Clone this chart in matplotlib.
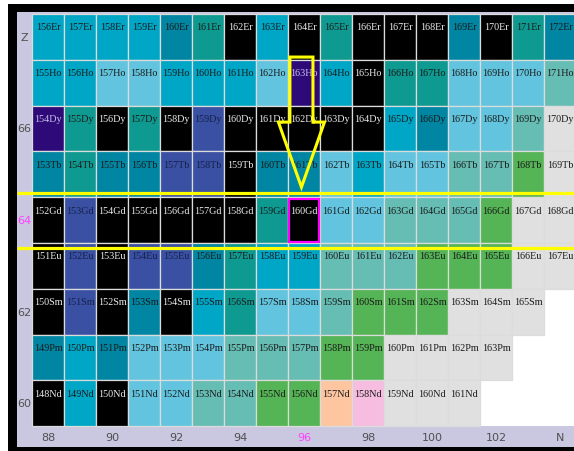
import matplotlib
matplotlib.use("Agg")
import matplotlib.pyplot as plt
from matplotlib.patches import Rectangle, Polygon

# Chart of nuclides, Z = 60..68, N = 88..104
elements = ["Er", "Ho", "Dy", "Tb", "Gd", "Eu", "Sm", "Pm", "Nd"]
z_values = [68, 67, 66, 65, 64, 63, 62, 61, 60]
first_mass = [156, 155, 154, 153, 152, 151, 150, 149, 148]
# one colour code per cell, starting at N = 88
row_codes = [
    "ccccdtkcktkkkdktd",
    "ccllccclpckttlllm",
    "ptktkbkkkkkcdllme",
    "dtddbbkddlcllmmge",
    "kbkkkkktkllmmmgee",
    "kbkbbdtccmmmgggee",
    "kbkdkctllmgggeee",
    "dcdlllmmmggeeee",
    "kckllmmggoneee",
]
palette = {
    "k": "#000000", "c": "#00a6c6", "d": "#0086a2", "t": "#0e9a90",
    "l": "#62c4de", "m": "#66bdb3", "b": "#3a50a3", "p": "#2d0a78",
    "g": "#55b455", "e": "#e0e0e0", "o": "#fdc6a0", "n": "#f6bde0",
}
n_ticks = [88, 90, 92, 94, 96, 98, 100, 102]
z_ticks = [66, 64, 62, 60]
highlight_n, highlight_z = 96, 64
arrow_from_z, arrow_to_z = 67, 64

N0 = 88
CW, RH = 32.0, 45.8  # pixel size of one cell


def px2n(px):
    return N0 - 0.5 + (px - 32) / CW


def px2z(py):
    return 68.5 - (py - 15) / RH


def box(ax, x0, y0, x1, y1, color):
    ax.add_patch(Rectangle((px2n(x0), px2z(y1)), px2n(x1) - px2n(x0),
                           px2z(y0) - px2z(y1), facecolor=color,
                           edgecolor="none", zorder=0))


fig = plt.figure(figsize=(5.74, 4.52), dpi=100)
ax = fig.add_axes([0, 0, 1, 1])
ax.set_xlim(px2n(0), px2n(574))
ax.set_ylim(px2z(452), px2z(0))
ax.axis("off")

# frame: black border, lavender panel, white grid area
box(ax, 8, 5, 600, 470, "#000000")
box(ax, 17, 13, 600, 448, "#c9c8e0")
box(ax, 32, 15, 600, 427, "#ffffff")

for sym, z, a0, codes in zip(elements, z_values, first_mass, row_codes):
    for i, code in enumerate(codes):
        n = N0 + i
        ax.add_patch(Rectangle((n - 0.5, z - 0.5), 1, 1,
                               facecolor=palette[code], edgecolor="#dcdcdc",
                               lw=0.9, zorder=1))
        if code == "k":
            tc = "#ececec"
        elif code == "p":
            tc = "#c8c0e8"
        elif code == "b":
            tc = "#15204a"
        else:
            tc = "#1a1a1a"
        ax.text(n, z + 0.22, f"{a0 + i}{sym}", ha="center", va="center",
                fontsize=7.3, color=tc, family="Liberation Serif", zorder=3)

# axis labels
lab_font = ["Liberation Sans Narrow", "DejaVu Sans"]
ax.text(px2n(24.5), 68, "Z", ha="center", va="center", fontsize=8,
        color="#505050", family=lab_font)
for z in z_ticks:
    ax.text(px2n(24.5), z, str(z), ha="center", va="center", fontsize=8,
            color="#ff40ff" if z == highlight_z else "#505050", family=lab_font)
for n in n_ticks:
    ax.text(n, px2z(438), str(n), ha="center", va="center", fontsize=8,
            color="#ff40ff" if n == highlight_n else "#505050", family=lab_font)
ax.text(104, px2z(438), "N", ha="center", va="center", fontsize=8,
        color="#505050", family=lab_font)

# yellow lines around the Gd row
for zl in [highlight_z + 0.59, highlight_z - 0.61]:
    ax.plot([px2n(17), px2n(600)], [zl, zl], color="#ffff00", lw=2.3,
            zorder=4, solid_capstyle="butt")

# magenta box on 160Gd
ax.add_patch(Rectangle((highlight_n - 0.47, highlight_z - 0.47), 0.94, 0.94,
                       facecolor="none", edgecolor="#ff00ff", lw=1.6, zorder=5))

# yellow outline arrow from 163Ho to 160Gd
cx = highlight_n - 0.08
top = arrow_from_z + 0.56
neck = arrow_from_z - 0.86
tip = arrow_to_z + 0.72
hw, hh = 0.36, 0.72
pts = [(cx - hw, top), (cx + hw, top), (cx + hw, neck), (cx + hh, neck),
       (cx, tip), (cx - hh, neck), (cx - hw, neck)]
ax.add_patch(Polygon(pts, closed=True, fill=False, edgecolor="#ffff00",
                     lw=2.2, zorder=6, joinstyle="miter"))

fig.savefig("out.png", dpi=100)
